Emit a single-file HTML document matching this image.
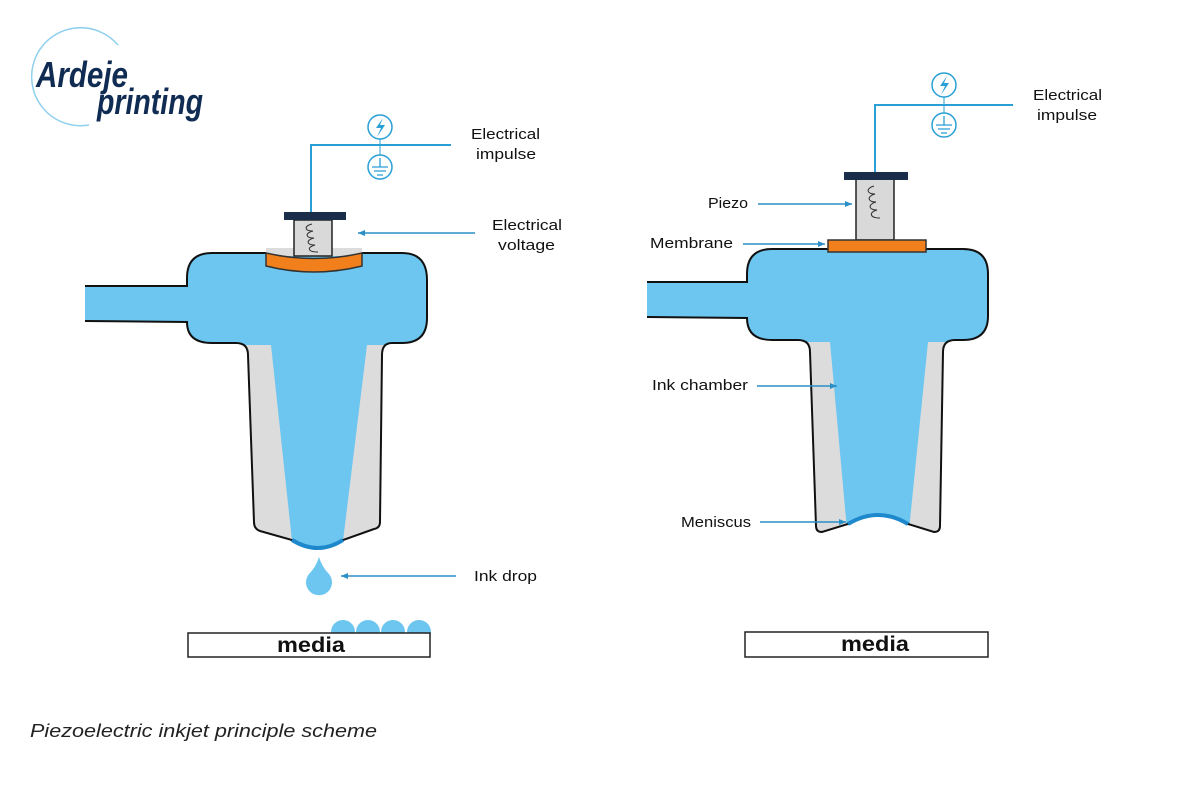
<!DOCTYPE html>
<html><head><meta charset="utf-8"><style>
html,body{margin:0;padding:0;background:#fff}
svg{display:block}
text{font-family:"Liberation Sans",sans-serif;fill:#111}
</style></head><body>
<svg width="1200" height="800" viewBox="0 0 1200 800" xmlns="http://www.w3.org/2000/svg">
<defs>
<marker id="ah" markerWidth="8" markerHeight="8" refX="7" refY="4" orient="auto" markerUnits="userSpaceOnUse">
<path d="M0,1 L7,4 L0,7 z" fill="#2a8fc6"/></marker>
<clipPath id="cl"><path d="M85 286 L187 286 L187 278 Q187 253 212 253 L402 253 Q427 253 427 280 L427 318 Q427 343 402 343 L392 343 Q382 343 382 355 L380 522 Q380 528 374 529 L343 540 Q318 556 292 540 L260 531 Q254 529 254 522 L248 355 Q248 343 236 343 L212 343 Q187 343 187 322 L85 321 Z"/></clipPath>
<clipPath id="cr"><path d="M647 282 L747 282 L747 274 Q747 249 772 249 L963 249 Q988 249 988 274 L988 316 Q988 340 963 340 L955 340 Q943 340 943 352 L940 526 Q940 532 934 532 L908 524 Q878 506 848 524 L822 532 Q816 532 816 526 L810 352 Q810 340 798 340 L772 340 Q747 340 747 318 L647 317 Z"/></clipPath>
</defs>

<!-- logo -->
<path d="M118 45 A49 49 0 1 0 89 125" fill="none" stroke="#8fd0ee" stroke-width="1.5"/>
<text x="36" y="87" font-size="36" font-weight="bold" font-style="italic" textLength="92" lengthAdjust="spacingAndGlyphs" style="fill:#102c52">Ardeje</text>
<text x="97" y="114" font-size="36" font-weight="bold" font-style="italic" textLength="106" lengthAdjust="spacingAndGlyphs" style="fill:#102c52">printing</text>

<!-- LEFT -->
<g clip-path="url(#cl)">
<rect x="80" y="240" width="360" height="320" fill="#6cc6ef"/>
<polygon points="235,345 271,345 292,541 235,545" fill="#dcdcdc"/>
<polygon points="367,345 400,345 400,545 343,541" fill="#dcdcdc"/>
</g>
<path d="M85 286 L187 286 L187 278 Q187 253 212 253 L402 253 Q427 253 427 280 L427 318 Q427 343 402 343 L392 343 Q382 343 382 355 L380 522 Q380 528 374 529 L343 540 Q318 556 292 540 L260 531 Q254 529 254 522 L248 355 Q248 343 236 343 L212 343 Q187 343 187 322 L85 321" fill="none" stroke="#111" stroke-width="2"/>
<path d="M292 540 Q318 556 343 540" fill="none" stroke="#1e88cc" stroke-width="4"/>
<rect x="266" y="248" width="96" height="8" fill="#dcdcdc"/>
<rect x="294" y="220" width="38" height="36" fill="#d9d9d9" stroke="#222" stroke-width="1.5"/>
<path d="M312 224 c-8 2 -8 7 1 7 c-8 2 -8 7 1 7 c-8 2 -8 7 1 7 c-8 2 -8 7 3 7" fill="none" stroke="#333" stroke-width="1"/>
<path d="M266 253 Q314 264 362 253 L362 266 Q314 278 266 266 Z" fill="#f07f1c" stroke="#333" stroke-width="1.5"/>
<rect x="284" y="212" width="62" height="8" fill="#1a2e4a"/>
<path d="M311 212 L311 145 L451 145" fill="none" stroke="#2a9fd6" stroke-width="2"/>
<line x1="380" y1="127" x2="380" y2="167" stroke="#2a9fd6" stroke-width="1"/>
<circle cx="380" cy="127" r="12" fill="#fff" stroke="#2a9fd6" stroke-width="1.5"/>
<path d="M383 118 L376 128 L381 128 L377 137 L385 125 L380 125 Z" fill="#2a9fd6"/>
<circle cx="380" cy="167" r="12" fill="#fff" stroke="#2a9fd6" stroke-width="1.5"/>
<path d="M380 158 V167 M372 167 H388 M374 171 H386 M377 175 H383" stroke="#2a9fd6" stroke-width="1.3"/>
<text x="471" y="139" font-size="15" textLength="69" lengthAdjust="spacingAndGlyphs">Electrical</text>
<text x="476" y="159" font-size="15" textLength="60" lengthAdjust="spacingAndGlyphs">impulse</text>
<line x1="475" y1="233" x2="358" y2="233" stroke="#2a8fc6" stroke-width="1.5" marker-end="url(#ah)"/>
<text x="492" y="230" font-size="15" textLength="70" lengthAdjust="spacingAndGlyphs">Electrical</text>
<text x="498" y="250" font-size="15" textLength="57" lengthAdjust="spacingAndGlyphs">voltage</text>
<path d="M319 557 Q322 567 329 574 A13 13 0 1 1 309 574 Q316 567 319 557 Z" fill="#6cc6ef"/>
<line x1="456" y1="576" x2="341" y2="576" stroke="#2a8fc6" stroke-width="1.5" marker-end="url(#ah)"/>
<text x="474" y="581" font-size="15" textLength="63" lengthAdjust="spacingAndGlyphs">Ink drop</text>
<circle cx="343" cy="632" r="12" fill="#6cc6ef"/>
<circle cx="368" cy="632" r="12" fill="#6cc6ef"/>
<circle cx="393" cy="632" r="12" fill="#6cc6ef"/>
<circle cx="419" cy="632" r="12" fill="#6cc6ef"/>
<rect x="188" y="633" width="242" height="24" fill="#fff" stroke="#222" stroke-width="1.5"/>
<text x="277" y="652" font-size="21" font-weight="bold" textLength="68" lengthAdjust="spacingAndGlyphs">media</text>

<!-- RIGHT -->
<g clip-path="url(#cr)">
<rect x="640" y="240" width="360" height="300" fill="#6cc6ef"/>
<polygon points="800,342 830,342 847,530 800,535" fill="#dcdcdc"/>
<polygon points="928,342 950,342 950,535 909,530" fill="#dcdcdc"/>
</g>
<path d="M647 282 L747 282 L747 274 Q747 249 772 249 L963 249 Q988 249 988 274 L988 316 Q988 340 963 340 L955 340 Q943 340 943 352 L940 526 Q940 532 934 532 L908 524 Q878 506 848 524 L822 532 Q816 532 816 526 L810 352 Q810 340 798 340 L772 340 Q747 340 747 318 L647 317" fill="none" stroke="#111" stroke-width="2"/>
<path d="M848 524 Q878 506 908 524" fill="none" stroke="#1e88cc" stroke-width="4"/>
<rect x="856" y="179" width="38" height="61" fill="#d9d9d9" stroke="#222" stroke-width="1.5"/>
<path d="M874 186 c-8 2 -8 8 1 8 c-8 2 -8 8 1 8 c-8 2 -8 8 1 8 c-8 2 -8 8 3 8" fill="none" stroke="#333" stroke-width="1"/>
<rect x="828" y="240" width="98" height="12" fill="#f07f1c" stroke="#333" stroke-width="1.5"/>
<rect x="844" y="172" width="64" height="8" fill="#1a2e4a"/>
<path d="M875 172 L875 105 L1013 105" fill="none" stroke="#2a9fd6" stroke-width="2"/>
<line x1="944" y1="85" x2="944" y2="125" stroke="#2a9fd6" stroke-width="1"/>
<circle cx="944" cy="85" r="12" fill="#fff" stroke="#2a9fd6" stroke-width="1.5"/>
<path d="M947 76 L940 86 L945 86 L941 95 L949 83 L944 83 Z" fill="#2a9fd6"/>
<circle cx="944" cy="125" r="12" fill="#fff" stroke="#2a9fd6" stroke-width="1.5"/>
<path d="M944 116 V125 M936 125 H952 M938 129 H950 M941 133 H947" stroke="#2a9fd6" stroke-width="1.3"/>
<text x="1033" y="100" font-size="15" textLength="69" lengthAdjust="spacingAndGlyphs">Electrical</text>
<text x="1037" y="120" font-size="15" textLength="60" lengthAdjust="spacingAndGlyphs">impulse</text>
<text x="708" y="208" font-size="15" textLength="40" lengthAdjust="spacingAndGlyphs">Piezo</text>
<line x1="758" y1="204" x2="852" y2="204" stroke="#2a8fc6" stroke-width="1.5" marker-end="url(#ah)"/>
<text x="650" y="248" font-size="15" textLength="83" lengthAdjust="spacingAndGlyphs">Membrane</text>
<line x1="743" y1="244" x2="825" y2="244" stroke="#2a8fc6" stroke-width="1.5" marker-end="url(#ah)"/>
<text x="652" y="390" font-size="15" textLength="96" lengthAdjust="spacingAndGlyphs">Ink chamber</text>
<line x1="757" y1="386" x2="837" y2="386" stroke="#2a8fc6" stroke-width="1.5" marker-end="url(#ah)"/>
<text x="681" y="527" font-size="15" textLength="70" lengthAdjust="spacingAndGlyphs">Meniscus</text>
<line x1="760" y1="522" x2="846" y2="522" stroke="#2a8fc6" stroke-width="1.5" marker-end="url(#ah)"/>
<rect x="745" y="632" width="243" height="25" fill="#fff" stroke="#222" stroke-width="1.5"/>
<text x="841" y="651" font-size="21" font-weight="bold" textLength="68" lengthAdjust="spacingAndGlyphs">media</text>

<text x="30" y="737" font-size="18" font-style="italic" textLength="347" lengthAdjust="spacingAndGlyphs" style="fill:#222">Piezoelectric inkjet principle scheme</text>
</svg>
</body></html>
